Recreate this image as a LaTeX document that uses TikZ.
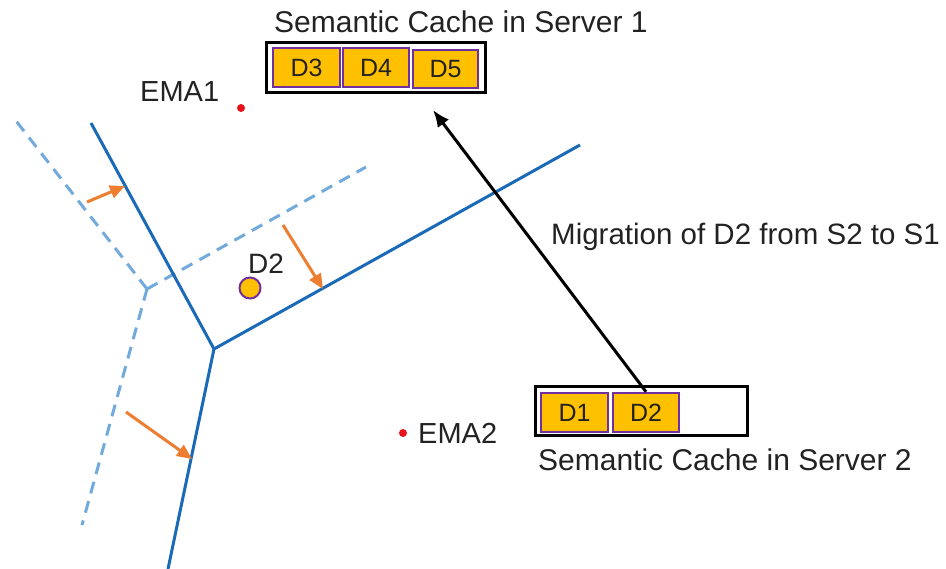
\documentclass[tikz,border=0pt]{standalone}
\usepackage{fontspec}
\setmainfont{Liberation Sans}
\usetikzlibrary{arrows.meta}
\definecolor{edgeblue}{HTML}{1B6AB7}
\definecolor{oldblue}{HTML}{72AADB}
\definecolor{shiftorange}{HTML}{ED7D31}
\definecolor{docfill}{HTML}{FFC000}
\definecolor{docedge}{HTML}{7030A0}
\definecolor{emared}{HTML}{E8141C}
\definecolor{ink}{HTML}{222222}
\begin{document}
\begin{tikzpicture}[x=1pt,y=-1pt,
  lbl/.style={anchor=base west,inner sep=0pt,text=ink,font=\fontsize{29}{34}\selectfont},
  title/.style={lbl,font=\fontsize{30}{35}\selectfont},
  border/.style={edgeblue,line width=3pt},
  oldborder/.style={oldblue,line width=3pt,dash pattern=on 12pt off 8pt},
  moveby/.style={shiftorange,line width=3pt,-{Triangle[length=15pt,width=13pt]}},
  cachebox/.style={draw=black,line width=3pt,fill=white},
  docbox/.style={draw=docedge,line width=2.5pt,fill=docfill,text=ink,
    font=\fontsize{25}{30}\selectfont,inner sep=0pt},
  emadot/.style={circle,fill=emared,inner sep=0pt,minimum size=8pt},
  migrate/.style={black,line width=3pt,-{Latex[length=17pt,width=14pt]}}]
\useasboundingbox (0,0) rectangle (946,569);

% Voronoi-like boundaries: previous (dashed) and current (solid)
\coordinate (K) at (147,289);
\coordinate (ka) at (13,117);
\coordinate (kb) at (366,167);
\coordinate (kc) at (82,525);
\draw[oldborder] (K) -- (ka);
\draw[oldborder] (K) -- (kb);
\draw[oldborder] (K) -- (kc);

\coordinate (J) at (214,349);
\coordinate (ja) at (91,123);
\coordinate (jb) at (580,145);
\coordinate (jc) at (168,569);
\draw[border] (J) -- (ja);
\draw[border] (J) -- (jb);
\draw[border] (J) -- (jc);

% boundary shifts
\coordinate (s1a) at (87,202);  \coordinate (s1b) at (125,186);
\coordinate (s2a) at (283,225); \coordinate (s2b) at (323,289);
\coordinate (s3a) at (126,412); \coordinate (s3b) at (192,459);
\draw[moveby] (s1a) -- (s1b);
\draw[moveby] (s2a) -- (s2b);
\draw[moveby] (s3a) -- (s3b);

% cluster centres
\node[emadot] (ema1) at (241,108) {};
\node[emadot] (ema2) at (403,433) {};
\node[lbl] (ema1l) at (140,102) {EMA1};
\node[lbl] (ema2l) at (418,444) {EMA2};

% the migrating document
\node[circle,draw=docedge,line width=2pt,fill=docfill,minimum size=21pt,inner sep=0pt] (d2pt) at (250,288) {};
\node[lbl,font=\fontsize{28}{33}\selectfont] (d2l) at (248,274) {D2};

% semantic cache of server 1
\node[title] (t1) at (274,33) {Semantic Cache in Server 1};
\draw[cachebox] (266,43) rectangle (485,93);
\node[docbox,minimum width=67pt,minimum height=39pt] (c1d3) at (306.5,67.5) {D3};
\node[docbox,minimum width=66pt,minimum height=39pt] (c1d4) at (376,67.5) {D4};
\node[docbox,minimum width=65pt,minimum height=38pt] (c1d5) at (445.5,69) {D5};

% semantic cache of server 2
\draw[cachebox] (535,387) rectangle (747,436);
\node[docbox,minimum width=67pt,minimum height=39pt] (c2d1) at (574.5,412.5) {D1};
\node[docbox,minimum width=66pt,minimum height=39pt] (c2d2) at (646,412.5) {D2};
\node[title] (t2) at (538,471) {Semantic Cache in Server 2};

% migration
\coordinate (tip) at (433,110);
\draw[migrate] (c2d2.north) -- (tip);
\node[lbl,font=\fontsize{29.5}{34}\selectfont] (ml) at (551,245) {Migration of D2 from S2 to S1};
\end{tikzpicture}
\end{document}
